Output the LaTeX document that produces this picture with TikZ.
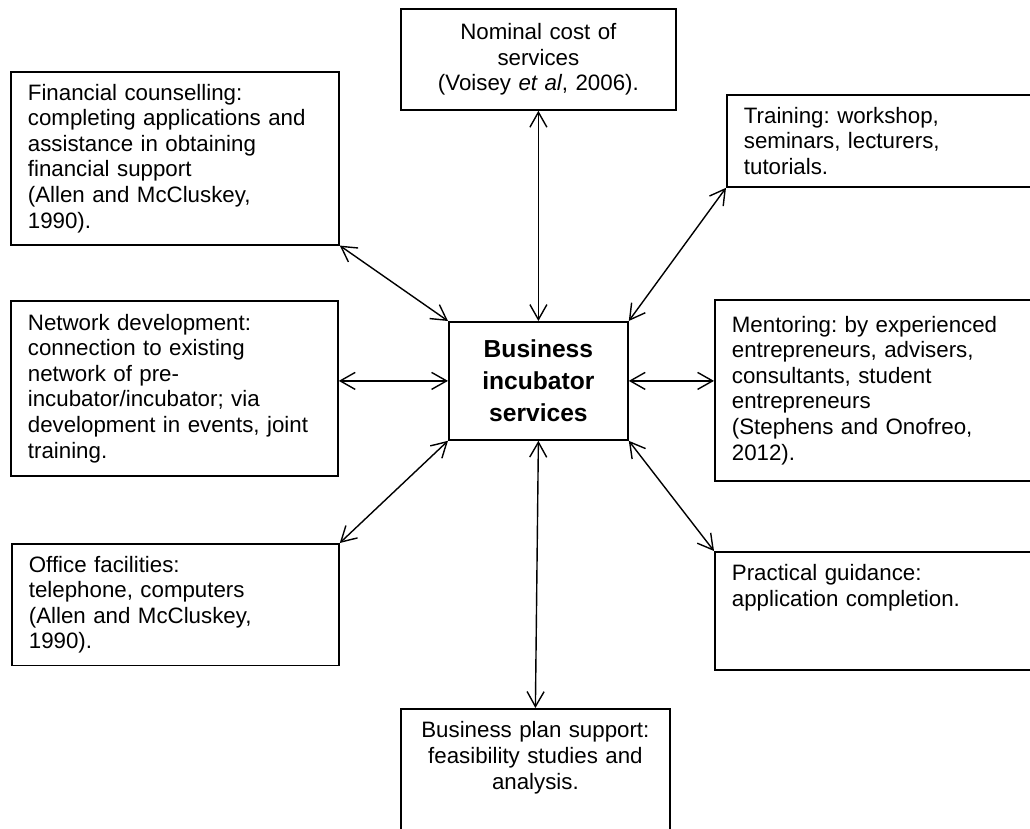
\documentclass[tikz,border=0pt]{standalone}
\usepackage{fontspec}
\setmainfont{Liberation Sans}
\frenchspacing
\usetikzlibrary{
  arrows.meta
}
\tikzset{
  >={Straight Barb[length=7.5pt,width=8.5pt]},
  box/.style={draw, line width=0.9pt, anchor=north west, inner xsep=8.5pt, inner ysep=6pt,
    align=left, font=\fontsize{11.15}{12.8}\selectfont},
  core/.style={box, align=center, font=\fontsize{12.3}{16}\selectfont\bfseries},
  link/.style={<->, line width=0.7pt}
}

\begin{document}
\begin{tikzpicture}[x=0.5pt,y=-0.5pt]
    \clip (0,0) rectangle (1030,829);

    \node[box, align=center, minimum height=50.5pt, text width=120.5pt] (cost) at (400,8)
      {Nominal cost of\\services\\(Voisey \textit{et al}, 2006).};
    \node[box, minimum height=86pt, text width=147pt] (fin) at (10,71)
      {Financial counselling:\\completing applications and\\assistance in obtaining\\financial support\\(Allen and McCluskey,\\1990).};
    \node[box, minimum height=87.5pt, text width=146.5pt] (net) at (10,300)
      {Network development:\\connection to existing\\network of pre-\\incubator/incubator; via\\development in events, joint\\training.};
    \node[box, minimum height=60.5pt, text width=146.5pt] (off) at (11,543)
      {Office facilities:\\telephone, computers\\(Allen and McCluskey,\\1990).};
    \node[box, minimum height=46pt, text width=150pt] (train) at (726,94)
      {Training: workshop,\\seminars, lecturers,\\tutorials.};
    \node[box, minimum height=90.5pt, text width=156pt] (ment) at (714,299)
      {Mentoring: by experienced\\entrepreneurs, advisers,\\consultants, student\\entrepreneurs\\(Stephens and Onofreo,\\2012).};
    \node[box, minimum height=59pt, text depth=38pt, text width=156pt] (prac) at (714,551)
      {Practical guidance:\\application completion.};
    \node[box, align=center, minimum height=75pt, text depth=54pt, text width=117.5pt] (plan) at (400,708)
      {Business plan support:\\feasibility studies and\\analysis.};
    \node[core, minimum height=59pt, text width=72.5pt] (hub) at (448,321)
      {Business\\incubator\\services};

    \draw[link] (cost.south) -- (hub.north);
    \draw[link] (fin.south east) -- (hub.north west);
    \draw[link] (train.south west) -- (hub.north east);
    \draw[link] (net.east |- hub.west) -- (hub.west);
    \draw[link] (hub.east) -- (hub.east -| ment.west);
    \draw[link] (off.north east) -- (hub.south west);
    \draw[link] (prac.north west) -- (hub.south east);
    \draw[link] (hub.south) -- (plan.north);
  \end{tikzpicture}
\end{document}
